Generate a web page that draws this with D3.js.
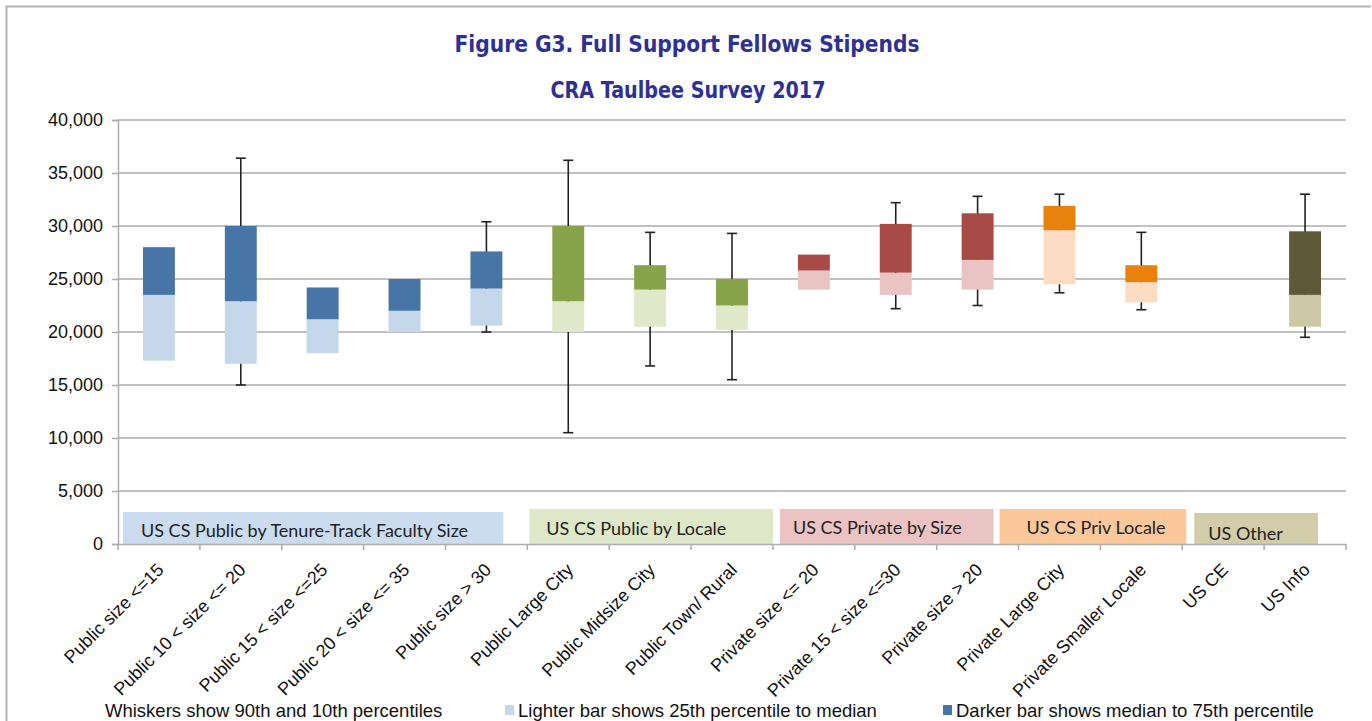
<!DOCTYPE html>
<html>
<head>
<meta charset="utf-8">
<script src="https://cdn.jsdelivr.net/npm/d3@7"></script>
<style>
  body { margin: 0; background: #fff; }
  svg { display: block; }
</style>
</head>
<body>
<svg id="chart" width="1372" height="721"></svg>
<script>
// data
const categories = ["Public size <=15", "Public 10 < size <= 20", "Public 15 < size <=25", "Public 20 < size <= 35",
  "Public size > 30", "Public Large City", "Public Midsize City", "Public Town/ Rural", "Private size <= 20",
  "Private 15 < size <=30", "Private size > 20", "Private Large City", "Private Smaller Locale", "US CE", "US Info"];
const p10 = [null, 15000, null, null, 20000, 10500, 16800, 15500, null, 22200, 22500, 23700, 22100, null, 19500];
const p25 = [17300, 17000, 18000, 20000, 20600, 20000, 20500, 20200, 24000, 23500, 24000, 24500, 22800, null, 20500];
const median = [23500, 22900, 21200, 22000, 24100, 22900, 24000, 22500, 25800, 25600, 26800, 29600, 24700, null, 23500];
const p75 = [28000, 30000, 24200, 25000, 27600, 30000, 26300, 25000, 27300, 30200, 31200, 31900, 26300, null, 29500];
const p90 = [null, 36400, null, null, 30400, 36200, 29400, 29300, null, 32200, 32800, 33000, 29400, null, 33000];
const groupOf = [0, 0, 0, 0, 0, 1, 1, 1, 2, 2, 2, 3, 3, 4, 4];

const groupNames = ["US CS Public by Tenure-Track Faculty Size", "US CS Public by Locale", "US CS Private by Size",
  "US CS Priv Locale", "US Other"];
const groupFirst = ["Public size <=15", "Public Large City", "Private size <= 20", "Private Large City", "US CE"];
const groupLast = ["Public size > 30", "Public Town/ Rural", "Private size > 20", "Private Smaller Locale", "US Info"];
const yTicks = [0, 5000, 10000, 15000, 20000, 25000, 30000, 35000, 40000];

const darkColors = ["#4775a5", "#88a44a", "#a84a46", "#e8820c", "#5e5a38"];
const lightColors = ["#c5d7ea", "#dfe9c9", "#eac3c3", "#fcdcc2", "#cdc8a6"];
const labelBoxColors = ["#cbdcf0", "#dee8c8", "#ebc3c3", "#fbc89b", "#d3cca8"];

// the group boxes were placed by hand in the original, these nudge them
const boxInsetL = [5, 2, 7, -19, 12];
const boxInsetR = [24, 0, 25, -4, 28];
const boxH = [32, 35, 35, 35, 31];
const boxTextPad = [18, 17, 13, 27, 14];
const boxTextLift = [7, 9, 10, 10, 4];

const width = 1372, height = 721;
const svg = d3.select("#chart");

// outer frame
svg.append("path")
  .attr("d", "M6.5," + height + "V6.5H1371")
  .attr("fill", "none")
  .attr("stroke", "#b4b4b4")
  .attr("stroke-width", 2);

// titles
svg.append("text")
  .attr("x", 687).attr("y", 52)
  .attr("text-anchor", "middle")
  .attr("font-family", "DejaVu Sans Condensed, DejaVu Sans")
  .attr("font-stretch", "condensed")
  .attr("font-weight", "bold")
  .attr("font-size", 23)
  .attr("textLength", 465)
  .attr("lengthAdjust", "spacingAndGlyphs")
  .attr("fill", "#2e3192")
  .text("Figure G3. Full Support Fellows Stipends");
svg.append("text")
  .attr("x", 688).attr("y", 98)
  .attr("text-anchor", "middle")
  .attr("font-family", "DejaVu Sans Condensed, DejaVu Sans")
  .attr("font-stretch", "condensed")
  .attr("font-weight", "bold")
  .attr("font-size", 23)
  .attr("textLength", 275)
  .attr("lengthAdjust", "spacingAndGlyphs")
  .attr("fill", "#2e3192")
  .text("CRA Taulbee Survey 2017");

const x = d3.scaleBand().domain(categories).range([118, 1346]).padding(0);
const y = d3.scaleLinear().domain([0, 40000]).range([544, 120]);
const boxW = x.bandwidth() * 0.39;

// gridlines
svg.append("g")
  .selectAll("line")
  .data(yTicks.filter(d => d > 0))
  .join("line")
  .attr("x1", 118).attr("x2", 1346)
  .attr("y1", d => y(d)).attr("y2", d => y(d))
  .attr("stroke", "#adadad")
  .attr("stroke-width", 1.5);

// y axis
const yAxis = svg.append("g")
  .attr("transform", "translate(118,0)")
  .call(d3.axisLeft(y).tickValues(yTicks).tickSize(6).tickPadding(9).tickFormat(d3.format(",")));
yAxis.select(".domain").attr("stroke", "#adadad").attr("stroke-width", 1.5);
yAxis.selectAll(".tick line").attr("stroke", "#adadad").attr("stroke-width", 1.5);
yAxis.selectAll("text")
  .attr("font-family", "Liberation Sans, Arial, sans-serif")
  .attr("font-size", 18)
  .attr("fill", "#111");

// group label boxes sit on the x axis
const groups = svg.append("g");
groupNames.forEach((name, i) => {
  const x0 = x(groupFirst[i]) + boxInsetL[i];
  const x1 = x(groupLast[i]) + x.bandwidth() - boxInsetR[i];
  groups.append("rect")
    .attr("x", x0).attr("y", y(0) - boxH[i])
    .attr("width", x1 - x0).attr("height", boxH[i])
    .attr("fill", labelBoxColors[i]);
  groups.append("text")
    .attr("x", x0 + boxTextPad[i]).attr("y", y(0) - boxTextLift[i])
    .attr("font-family", "Lato, Open Sans, sans-serif")
    .attr("font-size", 18)
    .attr("fill", "#222")
    .text(name);
});

// x axis
const xAxis = svg.append("g")
  .attr("transform", "translate(0,544)")
  .call(d3.axisBottom(x).tickSize(0).tickFormat(""));
xAxis.select(".domain").attr("stroke", "#adadad").attr("stroke-width", 1.5);
svg.append("g")
  .selectAll("line")
  .data(categories.concat(["end"]))
  .join("line")
  .attr("x1", (d, i) => 118 + i * x.step())
  .attr("x2", (d, i) => 118 + i * x.step())
  .attr("y1", 544).attr("y2", 550)
  .attr("stroke", "#adadad")
  .attr("stroke-width", 1.5);

svg.append("g")
  .selectAll("text")
  .data(categories)
  .join("text")
  .attr("transform", d => "translate(" + (x(d) + x.bandwidth() / 2 + 6) + ",571) rotate(-45)")
  .attr("text-anchor", "end")
  .attr("font-family", "Liberation Sans, Arial, sans-serif")
  .attr("font-size", 18)
  .attr("fill", "#111")
  .text(d => d);

// whiskers
const idx = d3.range(categories.length);
const whisk = svg.append("g").attr("stroke", "#222").attr("stroke-width", 1.6);
idx.filter(i => p90[i] !== null).forEach(i => {
  const cx = x(categories[i]) + x.bandwidth() / 2;
  whisk.append("line").attr("x1", cx).attr("x2", cx).attr("y1", y(p90[i])).attr("y2", y(p10[i]));
  whisk.append("line").attr("x1", cx - 5).attr("x2", cx + 5).attr("y1", y(p90[i])).attr("y2", y(p90[i]));
  whisk.append("line").attr("x1", cx - 5).attr("x2", cx + 5).attr("y1", y(p10[i])).attr("y2", y(p10[i]));
});

// boxes
const boxes = svg.append("g");
boxes.selectAll("rect.lower")
  .data(idx.filter(i => p25[i] !== null))
  .join("rect")
  .attr("class", "lower")
  .attr("x", i => x(categories[i]) + (x.bandwidth() - boxW) / 2)
  .attr("width", boxW)
  .attr("y", i => y(median[i]))
  .attr("height", i => y(p25[i]) - y(median[i]))
  .attr("fill", i => lightColors[groupOf[i]]);
boxes.selectAll("rect.upper")
  .data(idx.filter(i => p75[i] !== null))
  .join("rect")
  .attr("class", "upper")
  .attr("x", i => x(categories[i]) + (x.bandwidth() - boxW) / 2)
  .attr("width", boxW)
  .attr("y", i => y(p75[i]))
  .attr("height", i => y(median[i]) - y(p75[i]))
  .attr("fill", i => darkColors[groupOf[i]]);

// legend along the bottom
const legendText = ["Whiskers show 90th and 10th percentiles", "Lighter bar shows 25th percentile to median",
  "Darker bar shows median to 75th percentile"];
const legendX = [105, 518, 956];
const legendSwatch = [null, lightColors[0], darkColors[0]];
const legend = svg.append("g");
legendText.forEach((t, i) => {
  if (legendSwatch[i]) {
    legend.append("rect")
      .attr("x", legendX[i] - 13).attr("y", 705)
      .attr("width", 9).attr("height", 10)
      .attr("fill", legendSwatch[i]);
  }
  legend.append("text")
    .attr("x", legendX[i]).attr("y", 717)
    .attr("font-family", "Liberation Sans, Arial, sans-serif")
    .attr("font-size", 18.5)
    .attr("fill", "#111")
    .text(t);
});
</script>
</body>
</html>
